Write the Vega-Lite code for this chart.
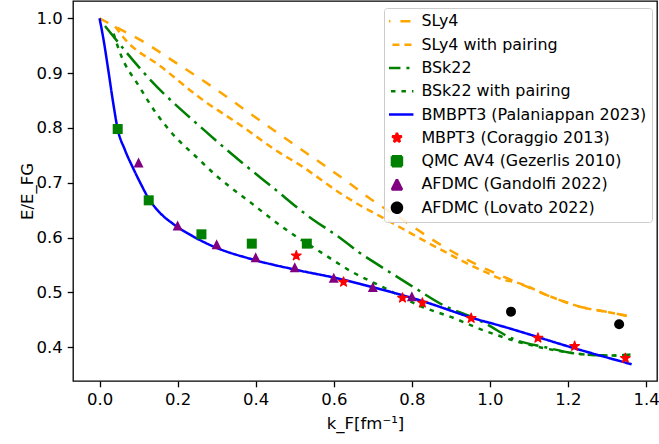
{
  "$schema": "https://vega.github.io/schema/vega-lite/v6.json",
  "width": 584,
  "height": 380,
  "autosize": {"type": "none"},
  "padding": {"left": 73, "top": 1, "right": 2, "bottom": 63},
  "config": {
    "font": "DejaVu Sans",
    "view": {"stroke": "black", "strokeWidth": 1.3},
    "axis": {
      "grid": false,
      "domain": false,
      "tickColor": "black",
      "tickSize": 5.8,
      "tickWidth": 1.3,
      "labelColor": "black",
      "labelFontSize": 16.5,
      "titleFontSize": 16.5,
      "titleFontWeight": "normal",
      "titleColor": "black",
      "labelPadding": 5
    },
    "legend": {
      "orient": "none", "direction": "vertical", "legendX": 311, "legendY": 7, "padding": 5,
      "fillColor": "rgba(255,255,255,0.85)", "strokeColor": "#cccccc", "cornerRadius": 3,
      "labelFontSize": 15.9, "labelFont": "DejaVu Sans", "labelColor": "black", "labelLimit": 320,
      "symbolSize": 100, "symbolStrokeWidth": 2.5, "symbolOffset": 0, "labelOffset": 16.5,
      "rowPadding": 6.3, "clipHeight": 16.7
    }
  },
  "layer": [
    {
      "data": {
        "values": [
          {"series": "SLy4", "k": 0, "E": 1.0},
          {"series": "SLy4", "k": 0.05, "E": 0.981},
          {"series": "SLy4", "k": 0.103, "E": 0.961},
          {"series": "SLy4", "k": 0.193, "E": 0.92},
          {"series": "SLy4", "k": 0.291, "E": 0.874},
          {"series": "SLy4", "k": 0.4, "E": 0.819},
          {"series": "SLy4", "k": 0.5, "E": 0.769},
          {"series": "SLy4", "k": 0.648, "E": 0.695},
          {"series": "SLy4", "k": 0.687, "E": 0.674},
          {"series": "SLy4", "k": 0.78, "E": 0.631},
          {"series": "SLy4", "k": 0.869, "E": 0.589},
          {"series": "SLy4", "k": 0.989, "E": 0.543},
          {"series": "SLy4", "k": 1.057, "E": 0.522},
          {"series": "SLy4", "k": 1.168, "E": 0.489},
          {"series": "SLy4", "k": 1.236, "E": 0.473},
          {"series": "SLy4", "k": 1.304, "E": 0.464},
          {"series": "SLy4", "k": 1.36, "E": 0.456},

          {"series": "SLy4 with pairing", "k": 0.04, "E": 0.985},
          {"series": "SLy4 with pairing", "k": 0.065, "E": 0.962},
          {"series": "SLy4 with pairing", "k": 0.159, "E": 0.911},
          {"series": "SLy4 with pairing", "k": 0.257, "E": 0.855},
          {"series": "SLy4 with pairing", "k": 0.359, "E": 0.806},
          {"series": "SLy4 with pairing", "k": 0.461, "E": 0.755},
          {"series": "SLy4 with pairing", "k": 0.512, "E": 0.733},
          {"series": "SLy4 with pairing", "k": 0.623, "E": 0.678},
          {"series": "SLy4 with pairing", "k": 0.674, "E": 0.656},
          {"series": "SLy4 with pairing", "k": 0.716, "E": 0.64},
          {"series": "SLy4 with pairing", "k": 0.869, "E": 0.58},
          {"series": "SLy4 with pairing", "k": 0.989, "E": 0.537},
          {"series": "SLy4 with pairing", "k": 1.04, "E": 0.522},
          {"series": "SLy4 with pairing", "k": 1.057, "E": 0.52},
          {"series": "SLy4 with pairing", "k": 1.168, "E": 0.489},
          {"series": "SLy4 with pairing", "k": 1.236, "E": 0.473},
          {"series": "SLy4 with pairing", "k": 1.304, "E": 0.464},
          {"series": "SLy4 with pairing", "k": 1.36, "E": 0.456},

          {"series": "BSk22", "k": 0.014, "E": 0.986},
          {"series": "BSk22", "k": 0.127, "E": 0.89},
          {"series": "BSk22", "k": 0.2695, "E": 0.795},
          {"series": "BSk22", "k": 0.363, "E": 0.738},
          {"series": "BSk22", "k": 0.448, "E": 0.689},
          {"series": "BSk22", "k": 0.533, "E": 0.64},
          {"series": "BSk22", "k": 0.619, "E": 0.598},
          {"series": "BSk22", "k": 0.665, "E": 0.573},
          {"series": "BSk22", "k": 0.708, "E": 0.553},
          {"series": "BSk22", "k": 0.797, "E": 0.513},
          {"series": "BSk22", "k": 0.891, "E": 0.473},
          {"series": "BSk22", "k": 0.955, "E": 0.455},
          {"series": "BSk22", "k": 0.989, "E": 0.443},
          {"series": "BSk22", "k": 1.057, "E": 0.416},
          {"series": "BSk22", "k": 1.142, "E": 0.4},
          {"series": "BSk22", "k": 1.227, "E": 0.388},
          {"series": "BSk22", "k": 1.312, "E": 0.385},
          {"series": "BSk22", "k": 1.36, "E": 0.387},

          {"series": "BSk22 with pairing", "k": 0.036, "E": 0.972},
          {"series": "BSk22 with pairing", "k": 0.052, "E": 0.938},
          {"series": "BSk22 with pairing", "k": 0.103, "E": 0.874},
          {"series": "BSk22 with pairing", "k": 0.146, "E": 0.826},
          {"series": "BSk22 with pairing", "k": 0.18, "E": 0.795},
          {"series": "BSk22 with pairing", "k": 0.257, "E": 0.741},
          {"series": "BSk22 with pairing", "k": 0.299, "E": 0.713},
          {"series": "BSk22 with pairing", "k": 0.385, "E": 0.665},
          {"series": "BSk22 with pairing", "k": 0.469, "E": 0.619},
          {"series": "BSk22 with pairing", "k": 0.572, "E": 0.571},
          {"series": "BSk22 with pairing", "k": 0.648, "E": 0.537},
          {"series": "BSk22 with pairing", "k": 0.725, "E": 0.51},
          {"series": "BSk22 with pairing", "k": 0.819, "E": 0.476},
          {"series": "BSk22 with pairing", "k": 0.912, "E": 0.452},
          {"series": "BSk22 with pairing", "k": 0.972, "E": 0.434},
          {"series": "BSk22 with pairing", "k": 1.019, "E": 0.422},
          {"series": "BSk22 with pairing", "k": 1.057, "E": 0.413},
          {"series": "BSk22 with pairing", "k": 1.142, "E": 0.398},
          {"series": "BSk22 with pairing", "k": 1.227, "E": 0.388},
          {"series": "BSk22 with pairing", "k": 1.312, "E": 0.385},
          {"series": "BSk22 with pairing", "k": 1.36, "E": 0.386},

          {"series": "BMBPT3 (Palaniappan 2023)", "k": 0, "E": 1.0},
          {"series": "BMBPT3 (Palaniappan 2023)", "k": 0.01, "E": 0.962},
          {"series": "BMBPT3 (Palaniappan 2023)", "k": 0.0225, "E": 0.905},
          {"series": "BMBPT3 (Palaniappan 2023)", "k": 0.034, "E": 0.85},
          {"series": "BMBPT3 (Palaniappan 2023)", "k": 0.0465, "E": 0.798},
          {"series": "BMBPT3 (Palaniappan 2023)", "k": 0.065, "E": 0.76},
          {"series": "BMBPT3 (Palaniappan 2023)", "k": 0.0864, "E": 0.726},
          {"series": "BMBPT3 (Palaniappan 2023)", "k": 0.105, "E": 0.699},
          {"series": "BMBPT3 (Palaniappan 2023)", "k": 0.126, "E": 0.671},
          {"series": "BMBPT3 (Palaniappan 2023)", "k": 0.155, "E": 0.645},
          {"series": "BMBPT3 (Palaniappan 2023)", "k": 0.1885, "E": 0.625},
          {"series": "BMBPT3 (Palaniappan 2023)", "k": 0.24, "E": 0.602},
          {"series": "BMBPT3 (Palaniappan 2023)", "k": 0.291, "E": 0.584},
          {"series": "BMBPT3 (Palaniappan 2023)", "k": 0.393, "E": 0.56},
          {"series": "BMBPT3 (Palaniappan 2023)", "k": 0.512, "E": 0.54},
          {"series": "BMBPT3 (Palaniappan 2023)", "k": 0.614, "E": 0.525},
          {"series": "BMBPT3 (Palaniappan 2023)", "k": 0.665, "E": 0.516},
          {"series": "BMBPT3 (Palaniappan 2023)", "k": 0.819, "E": 0.486},
          {"series": "BMBPT3 (Palaniappan 2023)", "k": 0.972, "E": 0.45},
          {"series": "BMBPT3 (Palaniappan 2023)", "k": 1.023, "E": 0.44},
          {"series": "BMBPT3 (Palaniappan 2023)", "k": 1.227, "E": 0.396},
          {"series": "BMBPT3 (Palaniappan 2023)", "k": 1.363, "E": 0.369}
        ]
      },
      "mark": {"type": "line", "strokeWidth": 2.5, "interpolate": "monotone"},
      "encoding": {
        "x": {
          "field": "k", "type": "quantitative",
          "scale": {"domain": [-0.068, 1.428], "nice": false, "zero": false},
          "axis": {"values": [0, 0.2, 0.4, 0.6, 0.8, 1.0, 1.2, 1.4], "format": ".1f", "title": "k_F[fm⁻¹]", "titlePadding": 7}
        },
        "y": {
          "field": "E", "type": "quantitative",
          "scale": {"domain": [0.3385, 1.0315], "nice": false, "zero": false},
          "axis": {"values": [0.4, 0.5, 0.6, 0.7, 0.8, 0.9, 1.0], "format": ".1f", "title": "E/E_FG", "titlePadding": 0}
        },
        "color": {
          "field": "series", "type": "nominal",
          "scale": {
            "domain": ["SLy4", "SLy4 with pairing", "BSk22", "BSk22 with pairing", "BMBPT3 (Palaniappan 2023)", "MBPT3 (Coraggio 2013)", "QMC AV4 (Gezerlis 2010)", "AFDMC (Gandolfi 2022)", "AFDMC (Lovato 2022)"],
            "range": ["#FFA500", "#FFA500", "#008000", "#008000", "#0000FF", "#FF0000", "#008000", "#800080", "#000000"]
          },
          "legend": {
            "title": null, "orient": "none", "legendX": 311, "legendY": 7,
            "fillColor": "rgba(255,255,255,0.85)", "strokeColor": "#cccccc",
            "encode": {
              "symbols": {
                "update": {
                  "fill": {"scale": "color", "field": "value"},
                  "strokeJoin": {"value": "bevel"},
                  "strokeCap": {"value": "butt"},
                  "stroke": {"signal": "indexof(['SLy4','SLy4 with pairing','BSk22','BSk22 with pairing','BMBPT3 (Palaniappan 2023)'], datum.value) >= 0 ? scale('color', datum.value) : 'transparent'"}
                }
              }
            }
          }
        },
        "strokeDash": {
          "field": "series", "type": "nominal",
          "scale": {
            "domain": ["SLy4", "SLy4 with pairing", "BSk22", "BSk22 with pairing", "BMBPT3 (Palaniappan 2023)", "MBPT3 (Coraggio 2013)", "QMC AV4 (Gezerlis 2010)", "AFDMC (Gandolfi 2022)", "AFDMC (Lovato 2022)"],
            "range": [[10, 10], [7, 5], [20, 6, 3, 6], [4.5, 6], [1, 0], [1, 0], [1, 0], [1, 0], [1, 0]]
          },
          "legend": {"title": null, "orient": "none", "legendX": 311, "legendY": 7, "fillColor": "rgba(255,255,255,0.85)", "strokeColor": "#cccccc"}
        }
      }
    },
    {
      "data": {
        "values": [
          {"series": "QMC AV4 (Gezerlis 2010)", "k": 0.0465, "E": 0.798},
          {"series": "QMC AV4 (Gezerlis 2010)", "k": 0.126, "E": 0.668},
          {"series": "QMC AV4 (Gezerlis 2010)", "k": 0.261, "E": 0.606},
          {"series": "QMC AV4 (Gezerlis 2010)", "k": 0.39, "E": 0.589},
          {"series": "QMC AV4 (Gezerlis 2010)", "k": 0.531, "E": 0.589},
          {"series": "AFDMC (Gandolfi 2022)", "k": 0.1, "E": 0.737},
          {"series": "AFDMC (Gandolfi 2022)", "k": 0.2, "E": 0.622},
          {"series": "AFDMC (Gandolfi 2022)", "k": 0.3, "E": 0.588},
          {"series": "AFDMC (Gandolfi 2022)", "k": 0.4, "E": 0.564},
          {"series": "AFDMC (Gandolfi 2022)", "k": 0.5, "E": 0.546},
          {"series": "AFDMC (Gandolfi 2022)", "k": 0.6, "E": 0.527},
          {"series": "AFDMC (Gandolfi 2022)", "k": 0.7, "E": 0.51},
          {"series": "AFDMC (Gandolfi 2022)", "k": 0.8, "E": 0.493},
          {"series": "AFDMC (Lovato 2022)", "k": 1.054, "E": 0.465},
          {"series": "AFDMC (Lovato 2022)", "k": 1.331, "E": 0.442}
        ]
      },
      "mark": {"type": "point", "filled": true, "opacity": 1, "size": 100},
      "encoding": {
        "x": {"field": "k", "type": "quantitative"},
        "y": {"field": "E", "type": "quantitative"},
        "color": {
          "field": "series", "type": "nominal",
          "legend": {"title": null, "orient": "none", "legendX": 311, "legendY": 7, "fillColor": "rgba(255,255,255,0.85)", "strokeColor": "#cccccc"}
        },
        "shape": {
          "field": "series", "type": "nominal",
          "scale": {
            "domain": ["SLy4", "SLy4 with pairing", "BSk22", "BSk22 with pairing", "BMBPT3 (Palaniappan 2023)", "MBPT3 (Coraggio 2013)", "QMC AV4 (Gezerlis 2010)", "AFDMC (Gandolfi 2022)", "AFDMC (Lovato 2022)"],
            "range": ["M-3.3,0L3.3,0", "M-3.3,0L3.3,0", "M-3.3,0L3.3,0", "M-3.3,0L3.3,0", "M-3.3,0L3.3,0",
              "M0,-1L0.2245,-0.309L0.951,-0.309L0.363,0.118L0.588,0.809L0,0.382L-0.588,0.809L-0.363,0.118L-0.951,-0.309L-0.2245,-0.309Z",
              "square", "M0,-1L1,1L-1,1Z", "circle"]
          },
          "legend": {"title": null, "orient": "none", "legendX": 311, "legendY": 7, "fillColor": "rgba(255,255,255,0.85)", "strokeColor": "#cccccc"}
        }
      }
    },
    {
      "data": {
        "values": [
          {"series": "MBPT3 (Coraggio 2013)", "k": 0.504, "E": 0.567},
          {"series": "MBPT3 (Coraggio 2013)", "k": 0.625, "E": 0.519},
          {"series": "MBPT3 (Coraggio 2013)", "k": 0.776, "E": 0.49},
          {"series": "MBPT3 (Coraggio 2013)", "k": 0.827, "E": 0.481},
          {"series": "MBPT3 (Coraggio 2013)", "k": 0.952, "E": 0.453},
          {"series": "MBPT3 (Coraggio 2013)", "k": 1.123, "E": 0.417},
          {"series": "MBPT3 (Coraggio 2013)", "k": 1.217, "E": 0.402},
          {"series": "MBPT3 (Coraggio 2013)", "k": 1.347, "E": 0.38}
        ]
      },
      "mark": {"type": "point", "filled": true, "opacity": 1, "size": 100, "stroke": "#FF0000", "strokeWidth": 1.3, "strokeJoin": "round"},
      "encoding": {
        "x": {"field": "k", "type": "quantitative"},
        "y": {"field": "E", "type": "quantitative"},
        "color": {
          "field": "series", "type": "nominal",
          "legend": {"title": null, "orient": "none", "legendX": 311, "legendY": 7, "fillColor": "rgba(255,255,255,0.85)", "strokeColor": "#cccccc"}
        },
        "shape": {
          "field": "series", "type": "nominal",
          "legend": {"title": null, "orient": "none", "legendX": 311, "legendY": 7, "fillColor": "rgba(255,255,255,0.85)", "strokeColor": "#cccccc"}
        }
      }
    }
  ]
}
